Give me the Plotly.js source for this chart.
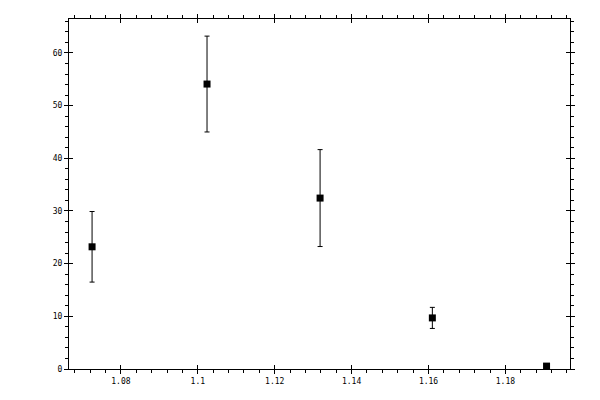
<!DOCTYPE html>
<html>
<head>
<meta charset="utf-8">
<script src="https://cdn.plot.ly/plotly-3.0.1.min.js"></script>
<style>
    body { margin: 0; background: #fff; }
    #chart { width: 600px; height: 400px; }
</style>
</head>
<body>
<div id="chart"></div>
<script>
// Values
const xValues = [1.0725, 1.1024, 1.1318, 1.1610, 1.1907];
const yValues = [23.2, 54.1, 32.45, 9.7, 0.55];
const yErrors = [6.7, 9.1, 9.2, 2.0, 0.3];

const tickFont = { family: 'DejaVu Sans Mono, monospace', size: 8, color: '#000' };

const points = {
    x: xValues,
    y: yValues,
    type: 'scatter',
    mode: 'markers',
    marker: { symbol: 'square', size: 7, color: '#000' },
    error_y: {
        type: 'data',
        array: yErrors,
        visible: true,
        color: '#000',
        thickness: 1,
        width: 2.5
    },
    hoverinfo: 'skip',
    showlegend: false
};

// invisible trace on the second pair of axes, so the inside half of the major ticks is drawn
const ghost = {
    x: xValues,
    y: yValues,
    xaxis: 'x2',
    yaxis: 'y2',
    type: 'scatter',
    mode: 'markers',
    marker: { opacity: 0 },
    hoverinfo: 'skip',
    showlegend: false
};

const xRange = [1.0665, 1.1968];
const yRange = [0, 66.45];

const layout = {
    width: 600,
    height: 400,
    margin: { l: 69, r: 30, t: 19, b: 31 },
    paper_bgcolor: '#fff',
    plot_bgcolor: '#fff',
    showlegend: false,
    xaxis: {
        range: xRange,
        tick0: 1.08,
        dtick: 0.02,
        ticks: 'outside',
        ticklen: 4,
        tickwidth: 1,
        tickcolor: '#000',
        minor: { dtick: 0.004, ticks: 'outside', ticklen: 3, tickwidth: 1, tickcolor: '#000' },
        showline: true,
        linecolor: '#000',
        linewidth: 1,
        mirror: 'ticks',
        showgrid: false,
        zeroline: false,
        tickfont: tickFont
    },
    yaxis: {
        range: yRange,
        tick0: 0,
        dtick: 10,
        ticks: 'outside',
        ticklen: 4,
        tickwidth: 1,
        tickcolor: '#000',
        minor: { dtick: 2, ticks: 'outside', ticklen: 3, tickwidth: 1, tickcolor: '#000' },
        showline: true,
        linecolor: '#000',
        linewidth: 1,
        mirror: 'ticks',
        showgrid: false,
        zeroline: false,
        tickfont: tickFont
    },
    xaxis2: {
        overlaying: 'x',
        range: xRange,
        tick0: 1.08,
        dtick: 0.02,
        ticks: 'inside',
        ticklen: 4,
        tickwidth: 1,
        tickcolor: '#000',
        mirror: 'ticks',
        showticklabels: false,
        showgrid: false,
        zeroline: false
    },
    yaxis2: {
        overlaying: 'y',
        range: yRange,
        tick0: 0,
        dtick: 10,
        ticks: 'inside',
        ticklen: 4,
        tickwidth: 1,
        tickcolor: '#000',
        mirror: 'ticks',
        showticklabels: false,
        showgrid: false,
        zeroline: false
    }
};

Plotly.newPlot('chart', [points, ghost], layout, { displayModeBar: false, staticPlot: true });
</script>
</body>
</html>
